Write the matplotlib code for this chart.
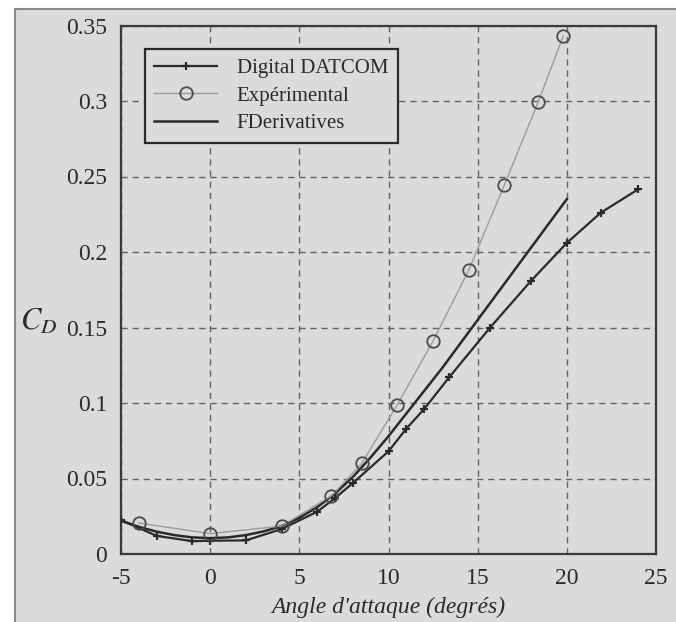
import matplotlib
matplotlib.use("Agg")
import matplotlib.pyplot as plt
from matplotlib.patches import Rectangle

# Drag coefficient vs angle of attack
datcom_alpha = [-5, -3, -1, 0, 2, 4, 6, 7, 8, 10, 11, 12, 13.4, 15.7, 18, 20, 21.9, 24]
datcom_cd = [0.0225, 0.012, 0.0085, 0.0088, 0.009, 0.0165, 0.028, 0.037, 0.047,
             0.068, 0.083, 0.096, 0.117, 0.150, 0.181, 0.206, 0.226, 0.2415]

exp_alpha = [-4, 0, 4, 6.8, 8.5, 10.5, 12.5, 14.5, 16.5, 18.4, 19.8]
exp_cd = [0.0205, 0.0135, 0.0185, 0.0385, 0.060, 0.099, 0.141, 0.188, 0.2445, 0.2995, 0.343]

fder_alpha = list(range(-5, 21))
fder_cd = [0.022, 0.018, 0.0148, 0.0125, 0.011, 0.0105, 0.011, 0.0125, 0.015, 0.0185,
           0.024, 0.031, 0.040, 0.051, 0.064, 0.078, 0.093, 0.108, 0.123, 0.139,
           0.155, 0.171, 0.187, 0.203, 0.219, 0.235]

x_ticks = [-5, 0, 5, 10, 15, 20, 25]
y_ticks = [0, 0.05, 0.1, 0.15, 0.2, 0.25, 0.3, 0.35]
y_ticklabels = ["0", "0.05", "0.1", "0.15", "0.2", "0.25", "0.3", "0.35"]

paper = "#dddadb"
ink = "#2a2a2a"

plt.rcParams["font.family"] = ["Liberation Serif", "DejaVu Serif"]
plt.rcParams["mathtext.fontset"] = "stix"
plt.rcParams["axes.unicode_minus"] = False

fig = plt.figure(figsize=(6.76, 6.22), dpi=100, facecolor="white")
# page area with its frame, kept behind the axes
page = Rectangle((15 / 676, -0.1), 1.2, 1 - 9 / 622 + 0.1,
                 transform=fig.transFigure, facecolor=paper,
                 edgecolor="#8a8a8a", linewidth=1.5, zorder=-10)
fig.patches.append(page)

ax = fig.add_axes([121 / 676, 1 - 554 / 622, 535 / 676, 528.5 / 622])
ax.set_facecolor(paper)

ax.plot(datcom_alpha, datcom_cd, color=ink, lw=1.6, marker="+", ms=6, mew=1.6,
        label="Digital DATCOM", zorder=3)
ax.plot(exp_alpha, exp_cd, color="#9c9c9c", lw=1.0, marker="o", ms=9,
        mfc="none", mec="#4a4a4a", mew=1.3, label="Expérimental", zorder=4)
ax.plot(fder_alpha, fder_cd, color=ink, lw=1.8, label="FDerivatives", zorder=3)

ax.set_xlim(-5, 25)
ax.set_ylim(0, 0.35)
ax.set_xticks(x_ticks)
ax.set_yticks(y_ticks)
ax.set_yticklabels(y_ticklabels)
ax.tick_params(direction="in", length=0, labelsize=17, labelcolor=ink, pad=10)
ax.grid(True, color="#626262", linestyle=(0, (4.5, 3.5)), linewidth=1.0)
for s in ax.spines.values():
    s.set_color("#3a3a3a")
    s.set_linewidth(1.6)

ax.set_xlabel("Angle d'attaque (degrés)", fontsize=17, style="italic",
              color=ink, labelpad=6)
fig.text(20 / 676, 1 - 322 / 622, "$C_D$", fontsize=22, color=ink,
         ha="left", va="center")

leg = ax.legend(loc="upper left", bbox_to_anchor=(0.045, 0.955), borderaxespad=0,
                fontsize=15, handlelength=3.0, handletextpad=0.95,
                labelspacing=0.38, fancybox=False, framealpha=1,
                facecolor=paper, edgecolor="#2a2a2a", borderpad=0.45)
leg.get_frame().set_linewidth(1.6)
for t in leg.get_texts():
    t.set_color(ink)

fig.savefig("out.png", dpi=100, facecolor=fig.get_facecolor())
